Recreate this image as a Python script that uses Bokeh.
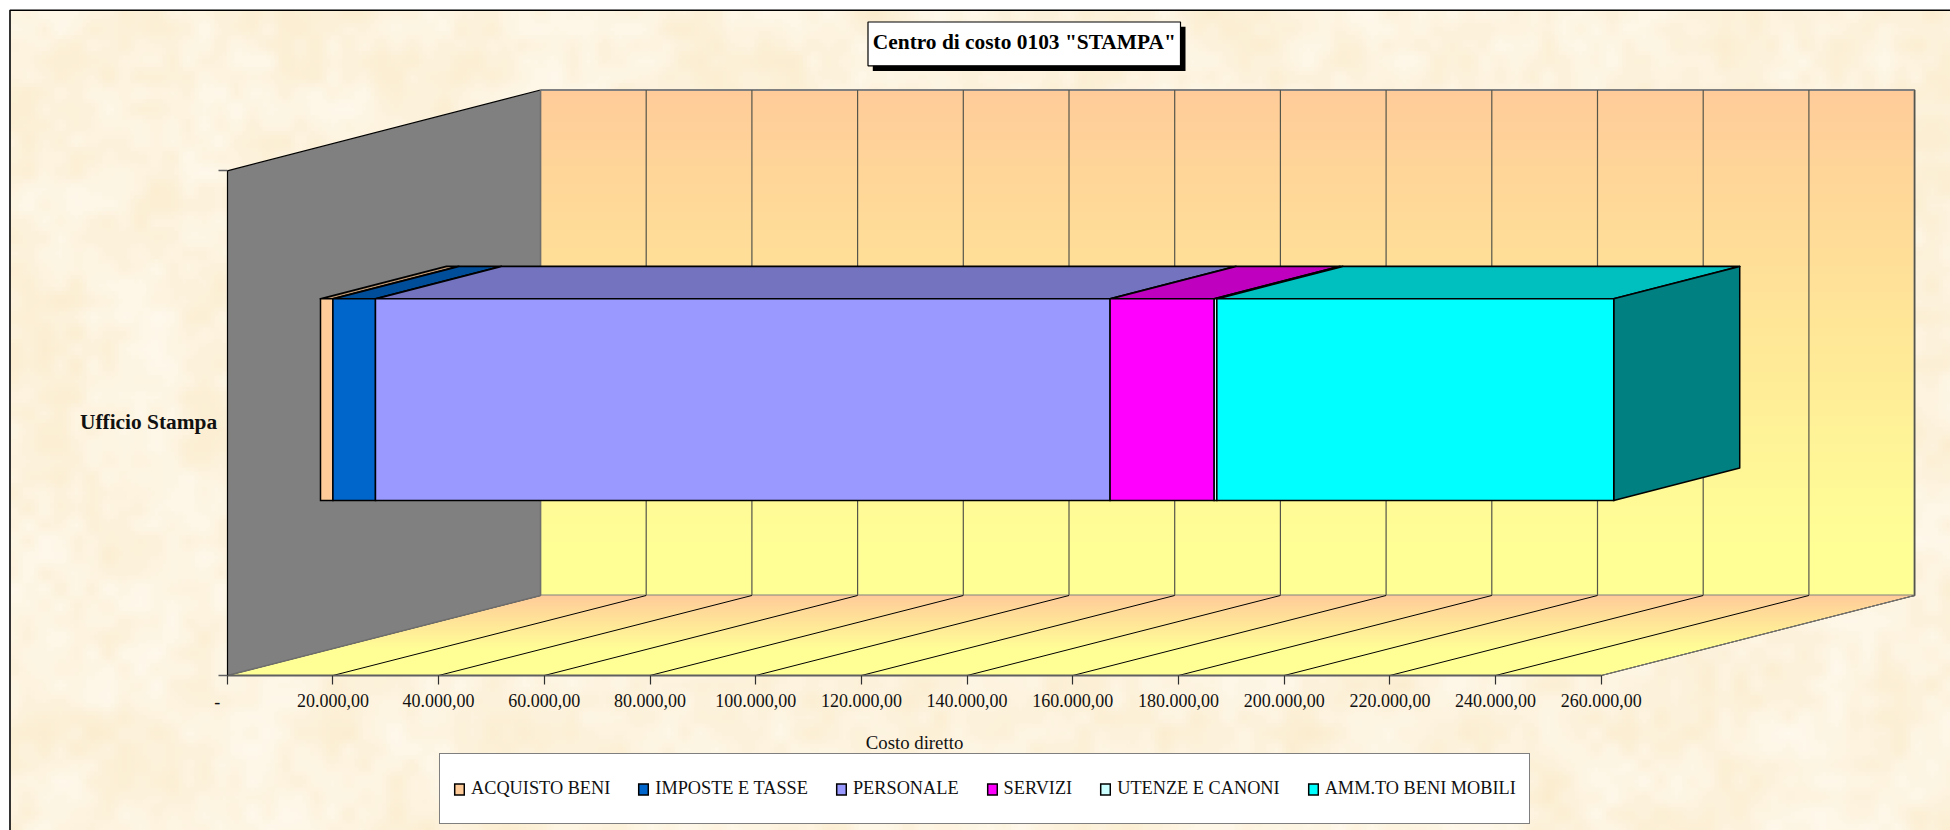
import numpy as np
from bokeh.embed import file_html
from bokeh.resources import INLINE
from bokeh.plotting import figure
from bokeh.models import Range1d, LinearAxis, FixedTicker, Legend, LegendItem
from bokeh.core.properties import value

# ---- data ----
categories = ["Ufficio Stampa"]
series_names = ["ACQUISTO BENI", "IMPOSTE E TASSE", "PERSONALE", "SERVIZI", "UTENZE E CANONI", "AMM.TO BENI MOBILI"]
series_values = [2350, 8050, 139000, 19700, 500, 75100]
front_colors = ["#FFCC99", "#0066CC", "#9999FF", "#FF00FF", "#CCFFFF", "#00FFFF"]
top_colors = ["#BF9973", "#004D99", "#7373BF", "#BF00BF", "#99BFBF", "#00BFBF"]
side_color = "#008080"
x_ticks = list(range(0, 260001, 20000))
x_tick_labels = ["", "20.000,00", "40.000,00", "60.000,00", "80.000,00", "100.000,00", "120.000,00",
                 "140.000,00", "160.000,00", "180.000,00", "200.000,00", "220.000,00", "240.000,00", "260.000,00"]
title_text = 'Centro di costo 0103 "STAMPA"'
x_title = "Costo diretto"

# ---- layout: page pixels ----
PAGE_W, PAGE_H = 1950, 830
MARGIN = 0
AX_X0 = 226.7            # page x of value 0
PX_PER_UNIT = 105.7 / 20000
FONT = value("Liberation Serif")


def vx(px):
    """page x -> value units of the x scale"""
    return (px - AX_X0) / PX_PER_UNIT


FRONT_BOTTOM, FRONT_TOP = 675, 170.4
BACK_BOTTOM, BACK_TOP = 595, 89.5
DEPTH_X = vx(540) - vx(AX_X0)
X_MAX = 260000

p = figure(width=PAGE_W - MARGIN, height=PAGE_H - MARGIN,
           x_range=Range1d(vx(MARGIN), vx(PAGE_W)), y_range=Range1d(PAGE_H, MARGIN),
           output_backend="svg", toolbar_location=None, min_border=0,
           x_axis_type=None, y_axis_type=None)
p.background_fill_color = "white"
p.border_fill_color = "white"
p.outline_line_color = None
p.grid.visible = False

# ---- paper texture of the chart area ----
def cell_noise(w, h, seed):
    i, j = np.meshgrid(np.arange(w), np.arange(h))
    s = np.sin(i * 12.9898 + j * 78.233 + seed) * 43758.5453
    return s - np.floor(s)


def smooth_layer(w, h, cell, seed):
    g = cell_noise(w // cell + 2, h // cell + 2, seed)
    u = np.arange(w) / cell
    v = np.arange(h) / cell
    i0, j0 = u.astype(int), v.astype(int)
    fu = u - i0
    fv = v - j0
    fu = fu * fu * (3 - 2 * fu)
    fv = fv * fv * (3 - 2 * fv)
    fu, fv = np.meshgrid(fu, fv)
    I, J = np.meshgrid(i0, j0)
    return (g[J, I] * (1 - fu) * (1 - fv) + g[J, I + 1] * fu * (1 - fv)
            + g[J + 1, I] * (1 - fu) * fv + g[J + 1, I + 1] * fu * fv)


TEX_W, TEX_H = 485, 205   # 4 page px per texture px
n = (smooth_layer(TEX_W, TEX_H, 4, 1.0) * 0.45 + smooth_layer(TEX_W, TEX_H, 12, 7.0) * 0.55) - 0.5
rgba = np.zeros((TEX_H, TEX_W, 4), dtype=np.uint8)
rgba[..., 0] = np.clip(253 + n * 4, 0, 255)
rgba[..., 1] = np.clip(243 + n * 13, 0, 255)
rgba[..., 2] = np.clip(222 + n * 32, 0, 255)
rgba[..., 3] = 255
p.image_rgba(image=[rgba.view(np.uint32).reshape(TEX_H, TEX_W)],
             x=vx(10), y=10.5, dw=vx(PAGE_W) - vx(10), dh=PAGE_H - 10.5)
p.line([vx(9.5), vx(9.5), vx(PAGE_W)], [PAGE_H, 9.8, 9.8], line_color="black", line_width=1.6)

# ---- back wall gradient ----
def mix(t):
    t = min(max(t, 0), 1)
    return "#%02X%02X%02X" % (255, int(round(204 + 51 * t)), int(round(153 - 3 * t)))

ys = np.arange(BACK_TOP, BACK_BOTTOM, 2.0)
wall_x, wall_y, wall_c = [], [], []
for y in ys:
    y2 = BACK_BOTTOM if y + 3 > BACK_BOTTOM else y + 3
    wall_x.append([vx(540), vx(1914), vx(1914), vx(540)])
    wall_y.append([y, y, y2, y2])
    wall_c.append(mix((y - BACK_TOP) / (545 - BACK_TOP)))
p.patches(wall_x, wall_y, fill_color=wall_c, line_color=None)
p.line([vx(540), vx(1914), vx(1914), vx(540)], [BACK_TOP, BACK_TOP, BACK_BOTTOM, BACK_BOTTOM],
       line_color="#808080", line_width=2)
p.segment(x0=[t + DEPTH_X for t in x_ticks], x1=[t + DEPTH_X for t in x_ticks],
          y0=BACK_TOP, y1=BACK_BOTTOM, line_color="#55554A", line_width=1.2)

# ---- floor gradient ----
fl_x, fl_y, fl_c = [], [], []
floor_h = FRONT_BOTTOM - BACK_BOTTOM
for y in np.arange(BACK_BOTTOM, FRONT_BOTTOM, 1.5):
    y2 = min(y + 2.5, FRONT_BOTTOM)
    a, b = (FRONT_BOTTOM - y) / floor_h, (FRONT_BOTTOM - y2) / floor_h
    fl_x.append([a * DEPTH_X, X_MAX + a * DEPTH_X, X_MAX + b * DEPTH_X, b * DEPTH_X])
    fl_y.append([y, y, y2, y2])
    fl_c.append(mix((y - BACK_BOTTOM) / (0.68 * floor_h)))
p.patches(fl_x, fl_y, fill_color=fl_c, line_color=None)
p.segment(x0=x_ticks, x1=[t + DEPTH_X for t in x_ticks], y0=FRONT_BOTTOM, y1=BACK_BOTTOM,
          line_color="black", line_width=1)
p.line([X_MAX, X_MAX + DEPTH_X], [FRONT_BOTTOM, BACK_BOTTOM], line_color="#808080", line_width=1)

# ---- side wall ----
p.patch([0, DEPTH_X, DEPTH_X, 0], [FRONT_TOP, BACK_TOP, BACK_BOTTOM, FRONT_BOTTOM],
        fill_color="#808080", line_color=None)
p.line([0, DEPTH_X], [FRONT_TOP, BACK_TOP], line_color="black", line_width=1.2)
p.line([DEPTH_X, DEPTH_X, 0], [BACK_TOP, BACK_BOTTOM, FRONT_BOTTOM], line_color="#6E6E6E", line_width=1.5)

# ---- 3D stacked bar ----
BAR_X0 = vx(320)
BAR_DX = vx(446) - vx(320)
BAR_DY = 32.4
BAR_TOP, BAR_BOTTOM = 298.3, 500

lefts = BAR_X0 + np.concatenate([[0], np.cumsum(series_values)[:-1]])
rights = lefts + np.array(series_values)
for l, r, c in zip(lefts, rights, top_colors):
    p.patch([l, r, r + BAR_DX, l + BAR_DX], [BAR_TOP, BAR_TOP, BAR_TOP - BAR_DY, BAR_TOP - BAR_DY],
            fill_color=c, line_color="black", line_width=1.8, line_join="round")
end = rights[-1]
p.patch([end, end + BAR_DX, end + BAR_DX, end],
        [BAR_TOP, BAR_TOP - BAR_DY, BAR_BOTTOM - BAR_DY, BAR_BOTTOM],
        fill_color=side_color, line_color="black", line_width=1.5, line_join="round")
fronts = []
for l, r, c in zip(lefts, rights, front_colors):
    fronts.append(p.quad(left=l, right=r, top=BAR_TOP, bottom=BAR_BOTTOM,
                         fill_color=c, line_color="black", line_width=1.5, line_join="miter"))

# ---- axes ----
xaxis = LinearAxis(ticker=FixedTicker(ticks=x_ticks, minor_ticks=[]),
                   major_label_overrides=dict(zip(x_ticks, x_tick_labels)),
                   fixed_location=FRONT_BOTTOM, bounds=(0, X_MAX),
                   axis_line_color="#606060", axis_line_width=2,
                   major_tick_line_color="#303030", major_tick_line_width=1.2,
                   major_tick_in=0, major_tick_out=9, minor_tick_in=0, minor_tick_out=0,
                   major_label_standoff=9,
                   major_label_text_font="Liberation Serif", major_label_text_font_size="18px",
                   major_label_text_color="#111111",
                   axis_label=x_title, axis_label_standoff=22,
                   axis_label_text_font="Liberation Serif", axis_label_text_font_size="18.8px",
                   axis_label_text_font_style="normal", axis_label_text_color="#111111")
p.add_layout(xaxis, "below")

CAT_Y = 421
yaxis = LinearAxis(ticker=FixedTicker(ticks=[CAT_Y], minor_ticks=[FRONT_TOP, FRONT_BOTTOM]),
                   major_label_overrides={CAT_Y: categories[0]},
                   fixed_location=0, bounds=(FRONT_TOP, FRONT_BOTTOM),
                   axis_line_color="black", axis_line_width=1.2,
                   major_tick_in=0, major_tick_out=0,
                   minor_tick_in=0, minor_tick_out=9,
                   minor_tick_line_color="#606060", minor_tick_line_width=1.5,
                   major_label_standoff=1,
                   major_label_text_font="Liberation Serif", major_label_text_font_size="21.4px",
                   major_label_text_font_style="bold", major_label_text_color="#111111")
p.add_layout(yaxis, "left")

p.text(x=[vx(216.7)], y=[700.7], text=["-"], text_font=FONT, text_font_size="18px",
       text_align="center", text_baseline="middle", text_color="#111111")

# ---- title box ----
p.quad(left=vx(872.3), right=vx(1185), top=26.3, bottom=70.5, fill_color="black", line_color=None)
p.quad(left=vx(867.5), right=vx(1180), top=21.5, bottom=65.3, fill_color="white",
       line_color="black", line_width=1.2)
p.text(x=[vx(1023.8)], y=[41.5], text=[title_text], text_font=FONT, text_font_size="21.4px",
       text_font_style="bold", text_align="center", text_baseline="middle", text_color="black")

# ---- legend ----
legend = Legend(items=[LegendItem(label=value(s), renderers=[r]) for s, r in zip(series_names, fronts)],
                orientation="horizontal", location=(439, 6), margin=0, padding=13,
                spacing=27, glyph_width=12, glyph_height=14, label_standoff=6,
                label_height=43, label_text_font="Liberation Serif", label_text_font_size="18.3px",
                label_text_color="#111111", background_fill_color="white", background_fill_alpha=1,
                border_line_color="black", border_line_width=1.2)
p.add_layout(legend, "center")

open("out.html", "w").write(file_html(p, INLINE))
